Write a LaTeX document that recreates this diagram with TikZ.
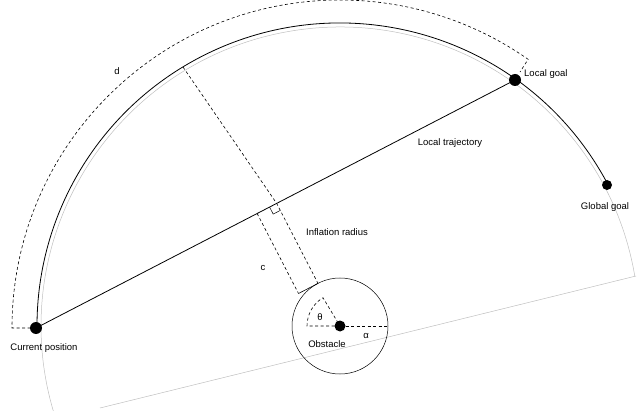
\documentclass[tikz,border=0pt]{standalone}
\usepackage{fontspec}
\setmainfont{Liberation Sans}
\begin{document}
\begin{tikzpicture}[x=1pt,y=1pt,
  lbl/.style={inner sep=0pt,font=\fontsize{9.5}{11}\selectfont},
  dot/.style={circle,fill=black,inner sep=0pt,minimum size=#1},
  dsh/.style={dash pattern=on 3pt off 2.5pt,line width=0.6pt},
  gry/.style={gray!50,line width=0.5pt}]
\useasboundingbox (0,0) rectangle (640,410);
\coordinate (O) at (340,84);
\begin{scope}
\clip (0,0) rectangle (640,410);
\draw[gry] (O) ++(9.6:299) arc[start angle=9.6,end angle=200,radius=299];
\draw[gry] (636,134) -- (100,2);
\end{scope}
\draw[line width=0.8pt] (O) ++(27.8:303) arc[start angle=27.8,end angle=180,radius=303];
\node[dot=12pt] (cp) at (36,82) {};
\node[dot=12pt] (lg) at (515,330) {};
\node[dot=10pt] (gg) at (607,225) {};
\node[dot=11pt] (ob) at (O) {};
\draw[line width=0.5pt] (O) circle[radius=48];
\draw[line width=0.8pt] (cp.center) -- (lg.center);
% d arc
\coordinate (d0) at (12,82);
\coordinate (d1) at (520,338);
\draw[dsh] (cp.center) -- (d0) arc[start angle=180,end angle=55,radius=328] -- (d1);
% perpendicular
\coordinate (top) at (183,343);
\coordinate (F) at (276.6,206.7);
\coordinate (T) at (318,126.6);
\coordinate (F2) at (257.1,196.6);
\coordinate (T2) at (298.5,116.5);
\draw[dsh] (top) -- (F) -- (T);
\draw[dsh] (F2) -- (T2);
\draw[line width=0.6pt] (T2) -- (T);
\draw[line width=0.5pt] (269.5,203.0) -- (273.2,195.9) -- (280.3,199.6);
% theta / alpha
\draw[dsh] (ob.center) -- ++(-33,0) arc[start angle=180,end angle=121,radius=33] -- (ob.center);
\draw[dsh] (ob.center) -- (388,84);
% labels
\node[lbl] (ld) at (117,339) {d};
\node[lbl] (lt) at (450,267) {Local trajectory};
\node[lbl] (li) at (337,178) {Inflation radius};
\node[lbl] (lc) at (263,142) {c};
\node[lbl] (lth) at (320,93) {θ};
\node[lbl] (la) at (366,74) {α};
\node[lbl] (lo) at (327,66) {Obstacle};
\node[lbl] (lcp) at (44,62) {Current position};
\node[lbl,anchor=west] (llg) at (524,336) {Local goal};
\node[lbl] (lgg) at (605,203) {Global goal};
\end{tikzpicture}
\end{document}
